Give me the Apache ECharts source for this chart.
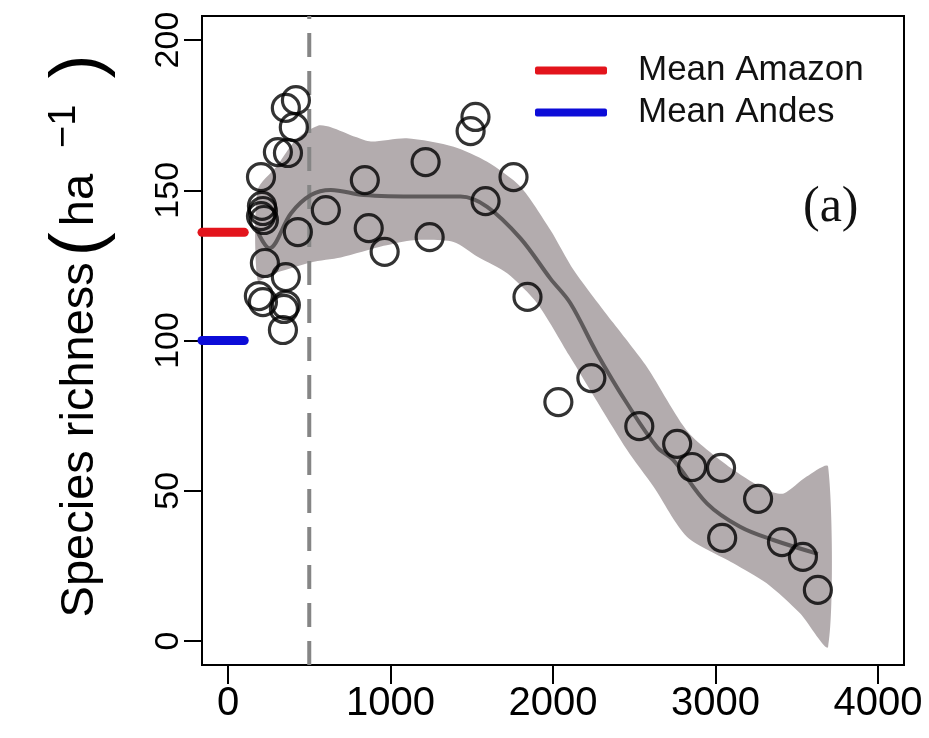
<!DOCTYPE html>
<html><head><meta charset="utf-8">
<script src="https://cdn.jsdelivr.net/npm/echarts@6/dist/echarts.min.js"></script>
<style>html,body{margin:0;padding:0;background:#fff}#c{width:929px;height:738px}</style>
</head><body><div id="c"></div>
<script>
// ---- data ----
const xTicks = [0, 1000, 2000, 3000, 4000];
const yTicks = [0, 50, 100, 150, 200];
const elevation = [356, 418, 405, 307, 369, 203, 209, 215, 203, 221, 430, 227, 356, 190, 215, 356, 344, 338,
  602, 842, 866, 964, 1216, 1241, 1493, 1523, 1585, 1757, 1843, 2033, 2236, 2531, 2764, 2856, 3034, 3041,
  3262, 3409, 3538, 3630];
const richness = [177.4, 180.0, 171.0, 162.7, 162.4, 154.4, 144.8, 143.1, 141.4, 140.1, 136.1, 125.8, 121.1,
  114.8, 112.8, 111.8, 110.5, 103.5, 143.4, 153.4, 137.4, 129.5, 159.4, 134.4, 169.7, 174.4, 146.4, 154.4,
  114.5, 79.5, 87.5, 71.5, 65.6, 57.9, 57.6, 34.3, 47.3, 32.9, 28.0, 17.0];
const fitX = [182, 254, 387, 510, 633, 835, 1186, 1431, 1595, 1800, 1984, 2107, 2271, 2455, 2639, 2741, 2947, 3151, 3356, 3630];
const fitY = [136.2, 130.7, 142.3, 148.4, 150.1, 148.4, 147.9, 147.9, 144.5, 134, 120.6, 112.4, 95.7, 79.1, 64.6, 60.2, 45.8, 38, 33.6, 29.0];
const bandUpperX = [182, 300, 420, 553, 633, 787, 880, 1100, 1389, 1595, 1800, 1984, 2127, 2373, 2578, 2832, 3112, 3316, 3420, 3561, 3693];
const bandUpperY = [150, 158, 167, 171.5, 171, 167.7, 166.2, 167.3, 164.5, 159.5, 151.2, 136.8, 123.5, 105.7, 91.2, 69.5, 56.9, 50.2, 49.1, 54.7, 58.0];
const bandLowerX = [182, 264, 510, 694, 958, 1143, 1388, 1536, 1720, 1902, 2100, 2455, 2619, 2824, 3110, 3315, 3520, 3693];
const bandLowerY = [120, 122, 126, 127.6, 131.5, 133.4, 132.8, 127.9, 122.3, 112.4, 95, 63.6, 51.3, 34.7, 25.9, 19.2, 9.2, -1.9];
const meanAmazon = 136;
const meanAndes = 100;
const meanLineX = [-160, 100];
const thresholdX = 500;

// ---- chart ----
const chart = echarts.init(document.getElementById('c'), null, {renderer: 'canvas'});
const SANS = "'Liberation Sans', Arial, sans-serif";
const option = {
  animation: false,
  backgroundColor: '#fff',
  grid: {left: 202, right: 25, top: 16, bottom: 73, show: true, borderColor: '#000', borderWidth: 2, backgroundColor: 'transparent'},
  xAxis: {
    type: 'value', min: -160, max: 4160,
    splitLine: {show: false}, axisLine: {show: false, onZero: false},
    axisTick: {show: true, length: 19, lineStyle: {color: '#000', width: 2}, customValues: xTicks},
    axisLabel: {customValues: xTicks, fontSize: 40, color: '#000', margin: 19, fontFamily: SANS,
      formatter: v => String(v)}
  },
  yAxis: {
    type: 'value', min: -8, max: 208,
    splitLine: {show: false}, axisLine: {show: false, onZero: false},
    axisTick: {show: true, length: 18, lineStyle: {color: '#000', width: 2}, customValues: yTicks},
    axisLabel: {customValues: yTicks, fontSize: 34, color: '#000', margin: 16, rotate: 90, fontFamily: SANS,
      formatter: v => String(v)}
  },
  legend: {
    data: ['Mean Amazon', 'Mean Andes'], orient: 'vertical', left: 530, top: 48,
    itemWidth: 72, itemHeight: 8, icon: 'roundRect', itemGap: 7,
    textStyle: {fontSize: 35, color: '#111', fontFamily: SANS, padding: [0, 0, 0, 26]}
  },
  graphic: [
    {type: 'text', left: 803, top: 183, style: {text: '(a)', font: "50px 'Liberation Serif', 'Times New Roman', serif", fill: '#111'}},
    {type: 'text', x: 80, y: 336, rotation: Math.PI / 2,
      style: {
        text: '{a|Species richness}{o|(}{a|ha}{s|−1}{c|)}', textAlign: 'center', textVerticalAlign: 'middle',
        rich: {
          a: {fontSize: 47, fontFamily: SANS, fill: '#000', verticalAlign: 'middle'},
          o: {fontSize: 72, fontFamily: SANS, fill: '#000', verticalAlign: 'middle', padding: [0, 6, 0, 6]},
          c: {fontSize: 72, fontFamily: SANS, fill: '#000', verticalAlign: 'middle'},
          s: {fontSize: 38, fontFamily: SANS, fill: '#000', verticalAlign: 'top', padding: [2, 26, 0, 26]}
        }
      }}
  ],
  series: [
    {
      type: 'custom', name: 'band', z: 1, clip: true, silent: true,
      data: [[0, 0]],
      renderItem: function (params, api) {
        const pts = [];
        for (let i = 0; i < bandUpperX.length; i++) pts.push(api.coord([bandUpperX[i], bandUpperY[i]]));
        for (let i = bandLowerX.length - 1; i >= 0; i--) pts.push(api.coord([bandLowerX[i], bandLowerY[i]]));
        return {type: 'polygon', shape: {points: pts, smooth: 0.25}, style: {fill: '#b3acae'}};
      }
    },
    {
      type: 'line', name: 'threshold', z: 2, showSymbol: false, silent: true,
      data: [[thresholdX, -8], [thresholdX, 208]],
      lineStyle: {color: '#858585', width: 4, type: [24, 14]}
    },
    {
      type: 'line', name: 'fit', z: 3, showSymbol: false, smooth: 0.35, silent: true,
      data: fitX.map((x, i) => [x, fitY[i]]),
      lineStyle: {color: '#5e5a5b', width: 4}
    },
    {
      type: 'line', name: 'Mean Amazon', z: 4, showSymbol: false, silent: true,
      data: meanLineX.map(x => [x, meanAmazon]), color: '#e3141c',
      lineStyle: {color: '#e3141c', width: 9, cap: 'round'}
    },
    {
      type: 'line', name: 'Mean Andes', z: 4, showSymbol: false, silent: true,
      data: meanLineX.map(x => [x, meanAndes]), color: '#0c0cd8',
      lineStyle: {color: '#0c0cd8', width: 9, cap: 'round'}
    },
    {
      type: 'scatter', name: 'plots', z: 5, symbol: 'circle', symbolSize: 27,
      data: elevation.map((x, i) => [x, richness[i]]),
      itemStyle: {color: 'rgba(0,0,0,0)', borderColor: '#000', borderWidth: 3.2}
    }
  ]
};
chart.setOption(option);
</script></body></html>
